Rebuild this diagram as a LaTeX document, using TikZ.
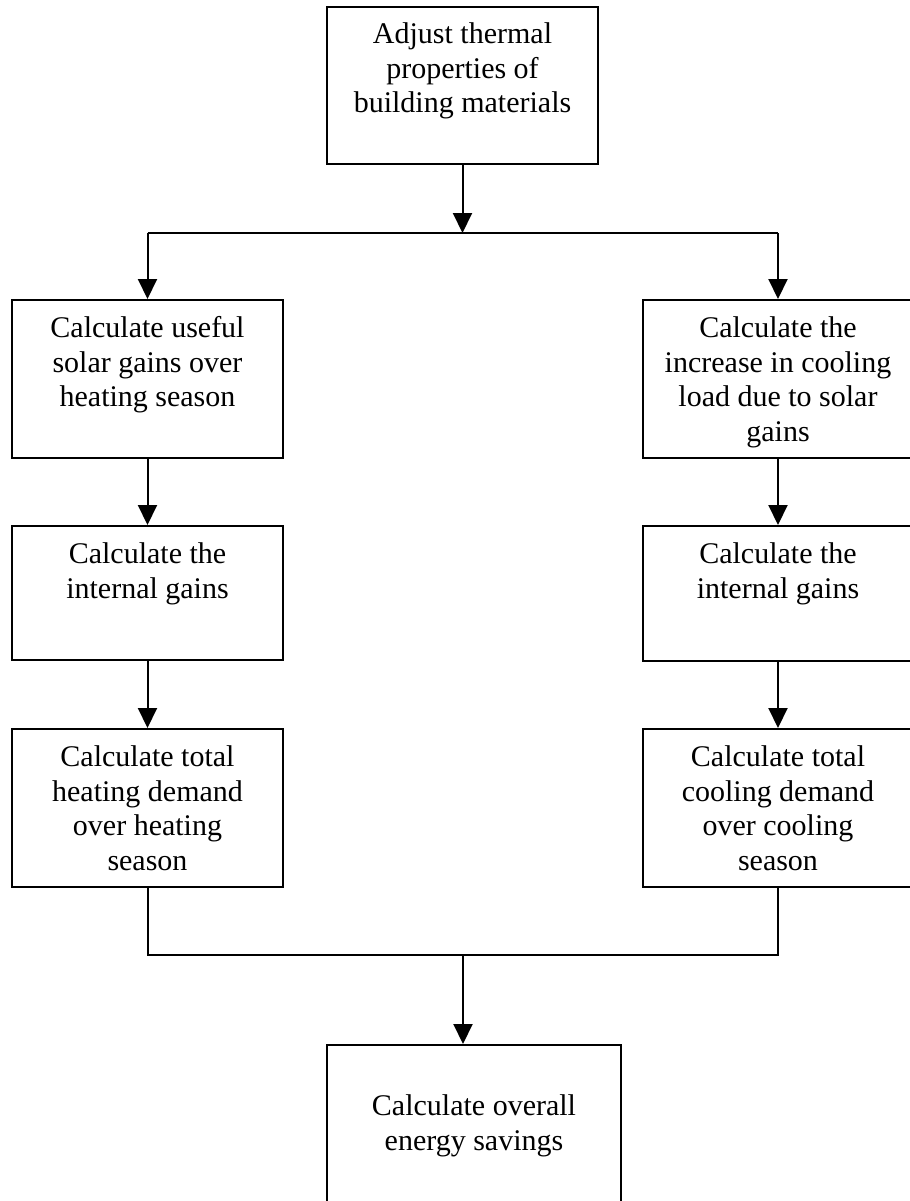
\documentclass[tikz,border=0pt]{standalone}
\usepackage{fontspec}
\setmainfont{Liberation Serif}
\usepackage{tikz}
\usetikzlibrary{arrows.meta,positioning}

\begin{document}
\begin{tikzpicture}[
  x=0.5pt, y=-0.5pt,
  stepbox/.style={rectangle,draw,line width=1pt,minimum width=135.5pt,inner sep=0pt},
  boxtext/.style={align=center,inner sep=0pt,font=\fontsize{15pt}{17.3pt}\selectfont},
  arr/.style={-{Triangle[length=10pt,width=9.5pt]},line width=1pt},
  line width=1pt,
]
\useasboundingbox (0,0) rectangle (910,1201);

% boxes
\node[stepbox,minimum height=78.5pt] (adjust) at (462.5,85.5) {};
\node[stepbox,minimum height=79pt] (solar) at (147.5,379) {};
\node[stepbox,minimum height=67pt] (intheat) at (147.5,593) {};
\node[stepbox,minimum height=79pt] (heat) at (147.5,808) {};
\node[stepbox,minimum height=79pt] (cooling) at (778,379) {};
\node[stepbox,minimum height=67.5pt] (intcool) at (778,593.5) {};
\node[stepbox,minimum height=79pt] (cool) at (778,808) {};
\node[stepbox,minimum width=147pt,minimum height=85pt] (savings) at (474,1130) {};

% texts
\node[boxtext,below=7.8pt] (tadjust) at (adjust.north) {Adjust thermal\\properties of\\building materials};
\node[boxtext,below=8.3pt] (tsolar) at (solar.north) {Calculate useful\\solar gains over\\heating season};
\node[boxtext,below=8.3pt] (tintheat) at (intheat.north) {Calculate the\\internal gains};
\node[boxtext,below=8.3pt] (theat) at (heat.north) {Calculate total\\heating demand\\over heating\\season};
\node[boxtext,below=8.3pt] (tcooling) at (cooling.north) {Calculate the\\increase in cooling\\load due to solar\\gains};
\node[boxtext,below=8.3pt] (tintcool) at (intcool.north) {Calculate the\\internal gains};
\node[boxtext,below=8.3pt] (tcool) at (cool.north) {Calculate total\\cooling demand\\over cooling\\season};
\node[boxtext,below=24.8pt] (tsavings) at (savings.north) {Calculate overall\\energy savings};

% connectors
\coordinate (fork) at (462.5,233);
\coordinate (merge) at (463,955);
\draw[arr] (adjust) -- (fork);
\draw (solar.north |- fork) -- (cooling.north |- fork);
\draw[arr] (solar.north |- fork) -- (solar);
\draw[arr] (cooling.north |- fork) -- (cooling);
\draw[arr] (solar) -- (intheat);
\draw[arr] (intheat) -- (heat);
\draw[arr] (cooling) -- (intcool);
\draw[arr] (intcool) -- (cool);
\draw (heat.south) |- (merge) -| (cool.south);
\draw[arr] (merge) -- (merge |- savings.north);
\end{tikzpicture}
\end{document}
